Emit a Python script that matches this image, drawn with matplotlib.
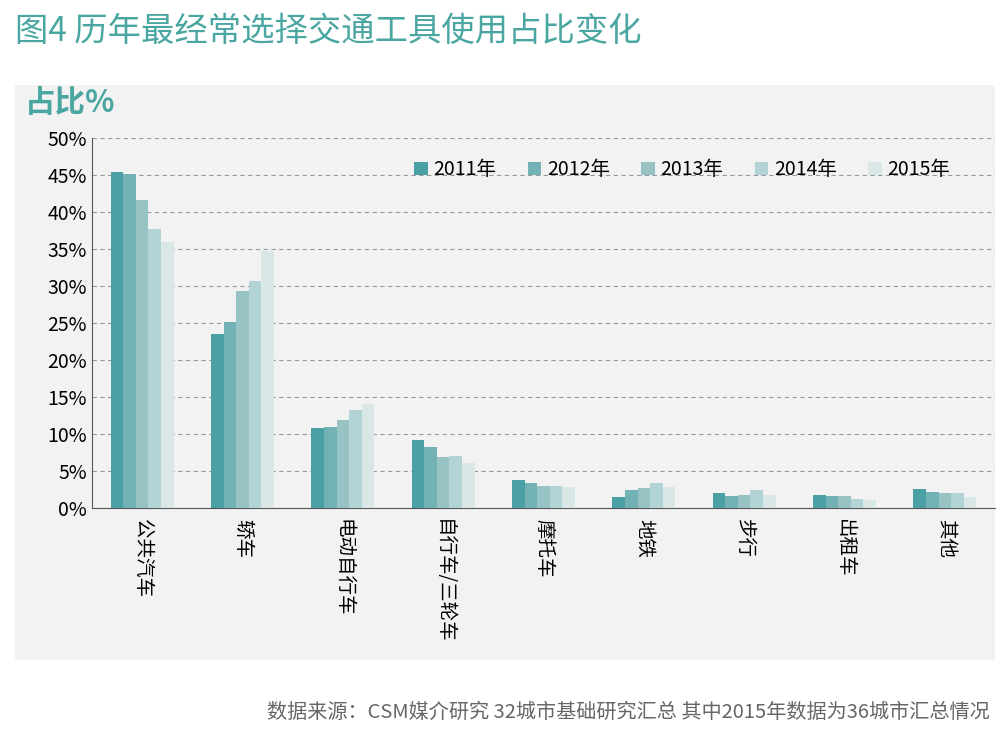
import numpy as np
import matplotlib.pyplot as plt

plt.rcParams['font.family'] = ['Noto Sans CJK SC', 'DejaVu Sans']

categories = ["公共汽车", "轿车", "电动自行车", "自行车/三轮车", "摩托车", "地铁", "步行", "出租车", "其他"]
years = ["2011年", "2012年", "2013年", "2014年", "2015年"]
v2011 = [45.4, 23.5, 10.8, 9.2, 3.8, 1.5, 2.0, 1.8, 2.6]
v2012 = [45.1, 25.1, 10.9, 8.2, 3.4, 2.4, 1.6, 1.6, 2.2]
v2013 = [41.6, 29.3, 11.9, 6.9, 3.0, 2.7, 1.8, 1.6, 2.0]
v2014 = [37.7, 30.7, 13.2, 7.0, 3.0, 3.4, 2.4, 1.2, 2.0]
v2015 = [35.9, 34.7, 14.1, 6.1, 2.8, 2.8, 1.8, 1.1, 1.5]
series = [v2011, v2012, v2013, v2014, v2015]
colors = ["#4aa0a4", "#72b1b4", "#97c3c4", "#b3d4d6", "#d9e7e7"]

fig = plt.figure(figsize=(10.04, 7.45), dpi=100)
bg = fig.add_axes([15/1004, 1-660/745, 980/1004, 575/745], zorder=-1)
bg.set_facecolor("#f2f2f2")
bg.set_xticks([])
bg.set_yticks([])
for s in bg.spines.values():
    s.set_visible(False)

fig.text(15/1004, 1-32/745, "图4 历年最经常选择交通工具使用占比变化", fontsize=24,
         color="#4aa6a0", va="center")
fig.text(25/1004, 1-103/745, "占比%", fontsize=22, color="#4aa6a0", va="center",
         fontweight="bold")
fig.text(990/1004, 1-712/745, "数据来源：CSM媒介研究 32城市基础研究汇总 其中2015年数据为36城市汇总情况",
         fontsize=14.5, color="#666666", ha="right", va="center")

ax = fig.add_axes([92/1004, 1-508/745, 903/1004, 370/745], zorder=1)
ax.set_facecolor("none")
x = np.arange(len(categories))
w = 0.125
for i, (vals, c, y) in enumerate(zip(series, colors, years)):
    ax.bar(x + (i - 2) * w, vals, w, color=c, label=y, zorder=3)
ax.set_xlim(-0.5, len(categories) - 0.5)
ax.set_ylim(0, 50)
ax.set_yticks(range(0, 51, 5))
ax.set_yticklabels([f"{t}%" for t in range(0, 51, 5)], fontsize=14)
ax.yaxis.grid(True, linestyle=(0, (4, 3)), color="#999999", linewidth=0.8)
ax.set_axisbelow(True)
ax.set_xticks(x)
ax.set_xticklabels(categories, rotation=-90, fontsize=14, va="top")
ax.tick_params(axis="x", length=0, pad=8)
ax.tick_params(axis="y", length=0)
for s in ["top", "right"]:
    ax.spines[s].set_visible(False)
ax.spines["left"].set_color("#555555")
ax.spines["bottom"].set_color("#555555")
ax.legend(loc="upper right", bbox_to_anchor=(0.97, 0.99), ncol=5, frameon=False,
          fontsize=14, handlelength=0.7, handleheight=0.7, columnspacing=1.6,
          handletextpad=0.3)
fig.savefig("out.png", dpi=100)
